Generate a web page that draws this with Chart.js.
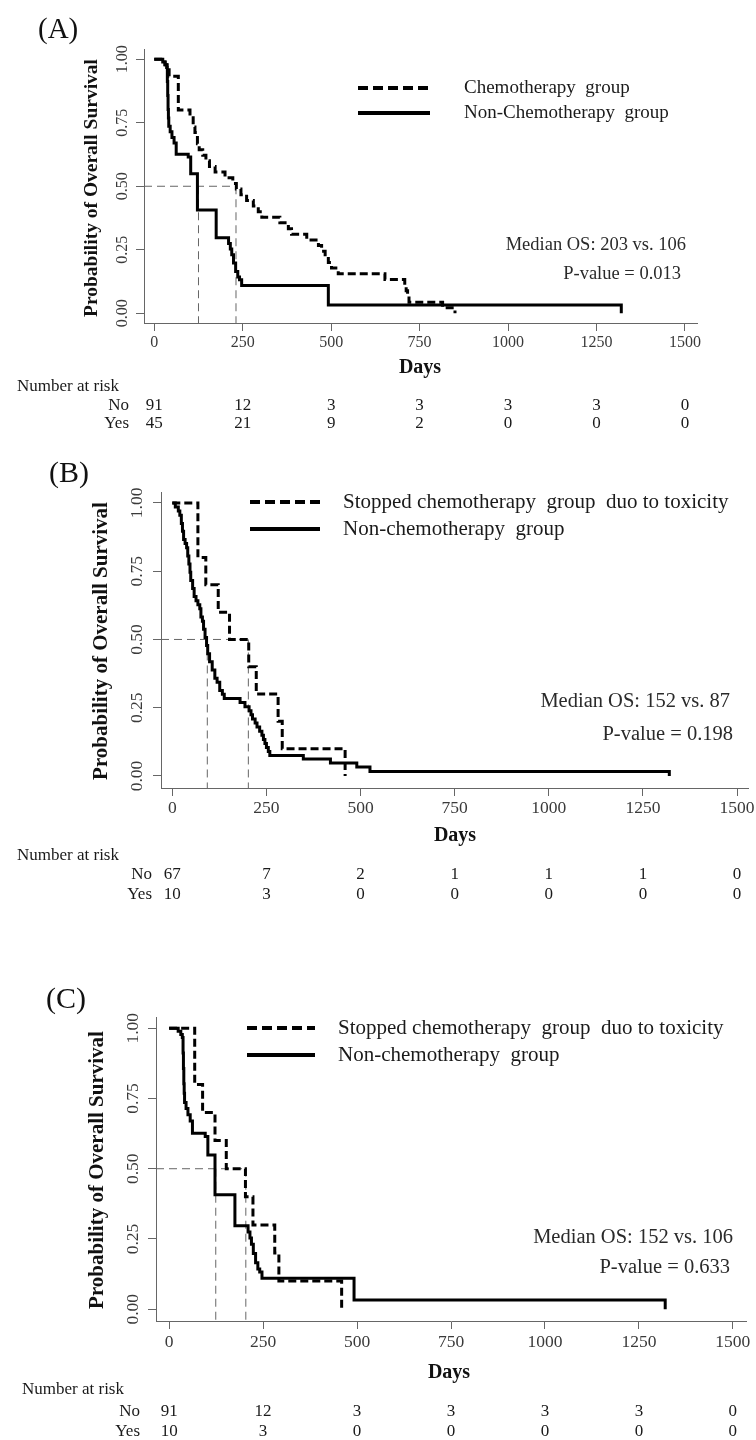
<!DOCTYPE html>
<html>
<head>
<meta charset="utf-8">
<script src="https://cdn.jsdelivr.net/npm/chart.js@4.4.0/dist/chart.umd.min.js"></script>
<style>
  html, body { margin: 0; padding: 0; background: #fff; }
  body { width: 756px; height: 1440px; position: relative; overflow: hidden; }
  canvas { position: absolute; left: 0; }
</style>
</head>
<body>
<canvas id="kmA" width="756" height="440" style="top:0px"></canvas>
<canvas id="kmB" width="756" height="465" style="top:440px"></canvas>
<canvas id="kmC" width="756" height="535" style="top:905px"></canvas>
<script>
// axis ticks
const xTicks = [0, 250, 500, 750, 1000, 1250, 1500];
const yTicks = [0, 0.25, 0.5, 0.75, 1];
const yTickLabels = ['0.00', '0.25', '0.50', '0.75', '1.00'];

// Kaplan-Meier steps (day of event, survival after it)
const chemoDays = [0, 30, 42, 68, 101, 110, 115, 122, 127, 137, 146, 156, 172, 200, 222, 232, 245, 261, 280, 294, 304, 355, 379, 388, 431, 464, 473, 483, 492, 501, 520, 652, 708, 712, 716, 720, 815, 850];
const chemoSurv = [1.0, 0.978, 0.933, 0.80, 0.778, 0.733, 0.711, 0.667, 0.644, 0.622, 0.60, 0.578, 0.556, 0.533, 0.511, 0.489, 0.467, 0.444, 0.422, 0.40, 0.378, 0.356, 0.333, 0.311, 0.289, 0.267, 0.244, 0.222, 0.20, 0.178, 0.156, 0.133, 0.111, 0.089, 0.067, 0.044, 0.022, 0.0];

// non-chemotherapy group, n = 91 (panels A and C)
const nonChemoDays = [0, 24, 31, 35, 37, 38, 39, 40, 41, 45, 50, 56, 62, 96, 103, 122, 175, 210, 215, 219, 224, 230, 236, 241, 247, 492, 1320];
const nonChemoSurv = [1.0, 0.989, 0.978, 0.967, 0.912, 0.857, 0.802, 0.769, 0.736, 0.714, 0.692, 0.670, 0.626, 0.615, 0.549, 0.407, 0.297, 0.275, 0.253, 0.231, 0.198, 0.165, 0.143, 0.132, 0.110, 0.033, 0.0];

// stopped chemotherapy due to toxicity, n = 10 (panels B and C)
const stoppedDays = [0, 68, 89, 122, 152, 203, 223, 281, 292, 459];
const stoppedSurv = [1.0, 0.8, 0.7, 0.6, 0.5, 0.4, 0.3, 0.2, 0.1, 0.0];

// non-chemotherapy group, n = 67 (panel B)
const nonChemo67Days = [0, 8, 16, 20, 24, 27, 30, 34, 38, 41, 44, 47, 49, 54, 58, 63, 68, 73, 76, 80, 83, 87, 91, 94, 99, 106, 113, 119, 126, 133, 138, 180, 193, 204, 209, 213, 220, 225, 232, 238, 242, 246, 250, 255, 259, 348, 420, 490, 525, 1320];
const nonChemo67Surv = [1.0, 0.985, 0.970, 0.955, 0.925, 0.896, 0.866, 0.851, 0.836, 0.806, 0.776, 0.746, 0.716, 0.687, 0.657, 0.642, 0.627, 0.612, 0.582, 0.567, 0.537, 0.507, 0.478, 0.448, 0.418, 0.388, 0.358, 0.343, 0.313, 0.299, 0.284, 0.269, 0.254, 0.239, 0.224, 0.209, 0.194, 0.179, 0.164, 0.149, 0.134, 0.119, 0.104, 0.090, 0.075, 0.062, 0.048, 0.033, 0.016, 0.0];

// medians (days where 50% reference lines drop)
const mediansA = [125, 231];
const mediansB = [93, 202];
const mediansC = [124, 204];

// number at risk
const riskRows = ['No', 'Yes'];
const riskA = [[91, 12, 3, 3, 3, 3, 0], [45, 21, 9, 2, 0, 0, 0]];
const riskB = [[67, 7, 2, 1, 1, 1, 0], [10, 3, 0, 0, 0, 0, 0]];
const riskC = [[91, 12, 3, 3, 3, 3, 0], [10, 3, 0, 0, 0, 0, 0]];

const SERIF = '"Liberation Serif", "Times New Roman", serif';

function toXY(days, surv) {
  return days.map((d, i) => ({ x: d, y: surv[i] }));
}

// text, legend and risk table drawn on top of the chart
const kmDecor = {
  id: 'kmDecor',
  afterDraw(chart, args, o) {
    const { ctx, chartArea: a } = chart;
    const x = chart.scales.x, y = chart.scales.y;
    ctx.save();
    ctx.textBaseline = 'middle';

    // panel letter
    ctx.fillStyle = '#111';
    ctx.textAlign = 'left';
    ctx.font = o.letterSize + 'px ' + SERIF;
    ctx.fillText(o.letter, o.letterX, o.letterY);

    // y tick labels, rotated like R
    ctx.fillStyle = '#3a3a3a';
    ctx.font = o.tickSize + 'px ' + SERIF;
    ctx.textAlign = 'center';
    yTicks.forEach((v, i) => {
      ctx.save();
      ctx.translate(o.yTickX, y.getPixelForValue(v));
      ctx.rotate(-Math.PI / 2);
      ctx.fillText(yTickLabels[i], 0, 0);
      ctx.restore();
    });
    // x tick labels
    xTicks.forEach(v => ctx.fillText(String(v), x.getPixelForValue(v), a.bottom + o.xTickDy));

    // axis titles
    ctx.fillStyle = '#111';
    ctx.font = 'bold ' + o.yTitleSize + 'px ' + SERIF;
    ctx.save();
    ctx.translate(o.yTitleX, o.yTitleY);
    ctx.rotate(-Math.PI / 2);
    ctx.fillText('Probability of Overall Survival', 0, 0);
    ctx.restore();
    ctx.font = 'bold ' + o.xTitleSize + 'px ' + SERIF;
    ctx.fillText('Days', o.xTitleX, a.bottom + o.xTitleDy);

    // legend
    ctx.textAlign = 'left';
    ctx.font = o.legendSize + 'px ' + SERIF;
    o.legend.forEach((item, i) => {
      const ly = o.legendY[i];
      ctx.save();
      ctx.strokeStyle = '#000';
      ctx.lineWidth = 4;
      ctx.setLineDash(item.dash);
      ctx.beginPath();
      ctx.moveTo(o.legendX0, ly);
      ctx.lineTo(o.legendX1, ly);
      ctx.stroke();
      ctx.restore();
      ctx.fillStyle = '#1a1a1a';
      ctx.fillText(item.text, o.legendTextX, ly);
    });

    // median / p-value notes
    ctx.textAlign = 'right';
    ctx.fillStyle = '#2a2a2a';
    ctx.font = o.noteSize + 'px ' + SERIF;
    o.notes.forEach(n => ctx.fillText(n.text, n.x, n.y));

    // number at risk table
    ctx.fillStyle = '#1a1a1a';
    ctx.font = o.riskSize + 'px ' + SERIF;
    ctx.textAlign = 'left';
    ctx.fillText('Number at risk', o.narX, a.bottom + o.narDy);
    o.risk.forEach((row, r) => {
      const ry = a.bottom + o.rowDy[r];
      ctx.textAlign = 'right';
      ctx.fillText(riskRows[r], o.rowLabelRight, ry);
      ctx.textAlign = 'center';
      row.forEach((n, i) => ctx.fillText(String(n), x.getPixelForValue(xTicks[i]), ry));
    });
    ctx.restore();
  }
};

function makePanel(id, p) {
  const el = document.getElementById(id);
  const W = el.width, H = el.height;
  const yW = 20, xH = 10;
  const refStyle = { borderColor: '#666', borderWidth: 1, borderDash: [8, 5], pointRadius: 0, fill: false };
  const maxMed = Math.max(...p.medians);
  const datasets = p.curves.map(c => ({
    data: toXY(c.days, c.surv),
    borderColor: '#000',
    borderWidth: 3,
    borderDash: c.dash,
    borderCapStyle: 'butt',
    borderJoinStyle: 'miter',
    stepped: true,
    pointRadius: 0,
    fill: false
  }));
  datasets.push(Object.assign({ data: [{ x: p.xMin, y: 0.5 }, { x: maxMed, y: 0.5 }] }, refStyle));
  p.medians.forEach(m => {
    datasets.push(Object.assign({ data: [{ x: m, y: 0.5 }, { x: m, y: p.yMin }] }, refStyle));
  });

  new Chart(el, {
    type: 'line',
    data: { datasets },
    options: {
      responsive: false,
      animation: false,
      devicePixelRatio: 1,
      layout: {
        padding: { left: p.area.left - yW, top: p.area.top, right: W - p.area.right, bottom: H - p.area.bottom - xH }
      },
      plugins: {
        legend: { display: false },
        tooltip: { enabled: false },
        kmDecor: p.decor
      },
      scales: {
        x: {
          type: 'linear',
          min: p.xMin,
          max: p.xMax,
          afterBuildTicks: s => { s.ticks = xTicks.map(v => ({ value: v })); },
          afterFit: s => { s.height = xH; },
          ticks: { display: false },
          grid: { drawOnChartArea: false, drawTicks: true, tickLength: 8, color: '#666' },
          border: { display: true, color: '#666', width: 1 }
        },
        y: {
          type: 'linear',
          min: p.yMin,
          max: 1.04,
          afterBuildTicks: s => { s.ticks = yTicks.map(v => ({ value: v })); },
          afterFit: s => { s.width = yW; },
          ticks: { display: false },
          grid: { drawOnChartArea: false, drawTicks: true, tickLength: 8, color: '#666' },
          border: { display: true, color: '#666', width: 1 }
        }
      }
    },
    plugins: [kmDecor]
  });
}

const dashCurve = [8, 4];
const dashLegend = [10, 5];

makePanel('kmA', {
  area: { left: 144, top: 49, right: 697, bottom: 323 },
  xMin: -29, xMax: 1534, yMin: -0.038,
  medians: mediansA,
  curves: [
    { days: nonChemoDays, surv: nonChemoSurv, dash: [] },
    { days: chemoDays, surv: chemoSurv, dash: dashCurve }
  ],
  decor: {
    letter: '(A)', letterX: 38, letterY: 30, letterSize: 29,
    tickSize: 16, yTickX: 123, xTickDy: 20,
    yTitleSize: 19.5, yTitleX: 92, yTitleY: 188,
    xTitleSize: 20, xTitleX: 420, xTitleDy: 45,
    legendSize: 19, legendX0: 358, legendX1: 430, legendTextX: 464, legendY: [88, 113],
    legend: [
      { text: 'Chemotherapy  group', dash: dashLegend },
      { text: 'Non-Chemotherapy  group', dash: [] }
    ],
    noteSize: 18.5,
    notes: [
      { text: 'Median OS: 203 vs. 106', x: 686, y: 245 },
      { text: 'P-value = 0.013', x: 681, y: 274 }
    ],
    riskSize: 17, narX: 17, narDy: 64, rowLabelRight: 129, rowDy: [83, 101],
    risk: riskA
  }
});

makePanel('kmB', {
  area: { left: 161, top: 52, right: 748, bottom: 348 },
  xMin: -30, xMax: 1529, yMin: -0.044,
  medians: mediansB,
  curves: [
    { days: nonChemo67Days, surv: nonChemo67Surv, dash: [] },
    { days: stoppedDays, surv: stoppedSurv, dash: dashCurve }
  ],
  decor: {
    letter: '(B)', letterX: 49, letterY: 34, letterSize: 30,
    tickSize: 17.5, yTickX: 137, xTickDy: 20,
    yTitleSize: 21, yTitleX: 102, yTitleY: 201,
    xTitleSize: 20, xTitleX: 455, xTitleDy: 48,
    legendSize: 21, legendX0: 250, legendX1: 320, legendTextX: 343, legendY: [62, 89],
    legend: [
      { text: 'Stopped chemotherapy  group  duo to toxicity', dash: dashLegend },
      { text: 'Non-chemotherapy  group', dash: [] }
    ],
    noteSize: 20.5,
    notes: [
      { text: 'Median OS: 152 vs. 87', x: 730, y: 262 },
      { text: 'P-value = 0.198', x: 733, y: 295 }
    ],
    riskSize: 17, narX: 17, narDy: 68, rowLabelRight: 152, rowDy: [87, 107],
    risk: riskB
  }
});

makePanel('kmC', {
  area: { left: 156, top: 112, right: 746, bottom: 416 },
  xMin: -35, xMax: 1535, yMin: -0.042,
  medians: mediansC,
  curves: [
    { days: nonChemoDays, surv: nonChemoSurv, dash: [] },
    { days: stoppedDays, surv: stoppedSurv, dash: dashCurve }
  ],
  decor: {
    letter: '(C)', letterX: 46, letterY: 95, letterSize: 30,
    tickSize: 17.5, yTickX: 133, xTickDy: 21,
    yTitleSize: 21, yTitleX: 98, yTitleY: 265,
    xTitleSize: 20, xTitleX: 449, xTitleDy: 52,
    legendSize: 21, legendX0: 247, legendX1: 315, legendTextX: 338, legendY: [123, 150],
    legend: [
      { text: 'Stopped chemotherapy  group  duo to toxicity', dash: dashLegend },
      { text: 'Non-chemotherapy  group', dash: [] }
    ],
    noteSize: 20.5,
    notes: [
      { text: 'Median OS: 152 vs. 106', x: 733, y: 333 },
      { text: 'P-value = 0.633', x: 730, y: 363 }
    ],
    riskSize: 17, narX: 22, narDy: 69, rowLabelRight: 140, rowDy: [91, 111],
    risk: riskC
  }
});
</script>
</body>
</html>
